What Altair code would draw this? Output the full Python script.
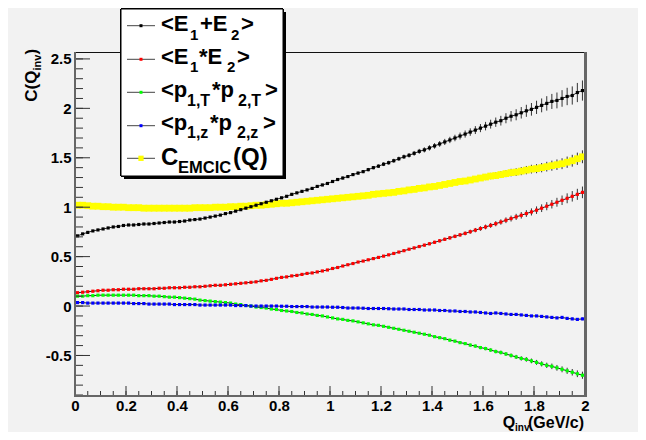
import altair as alt
import pandas as pd
import numpy as np

# ---------------- data (100 bins of 0.02 GeV/c) ----------------
q_inv = [round(0.01 + 0.02 * i, 2) for i in range(100)]

e_sum = [0.71, 0.73, 0.745, 0.76, 0.77, 0.78, 0.79, 0.80, 0.805, 0.815,
         0.82, 0.82, 0.825, 0.83, 0.83, 0.835, 0.84, 0.845, 0.85, 0.85,
         0.855, 0.86, 0.87, 0.875, 0.88, 0.89, 0.90, 0.91, 0.92, 0.935,
         0.945, 0.96, 0.975, 0.99, 1.005, 1.02, 1.035, 1.05, 1.065, 1.08,
         1.095, 1.11, 1.13, 1.145, 1.16, 1.175, 1.19, 1.21, 1.225, 1.24,
         1.26, 1.28, 1.295, 1.31, 1.33, 1.345, 1.36, 1.38, 1.40, 1.415,
         1.435, 1.45, 1.47, 1.49, 1.51, 1.525, 1.545, 1.565, 1.58, 1.60,
         1.62, 1.64, 1.66, 1.68, 1.70, 1.72, 1.74, 1.76, 1.78, 1.80,
         1.82, 1.84, 1.86, 1.875, 1.90, 1.92, 1.935, 1.955, 1.975, 1.99,
         2.01, 2.03, 2.05, 2.07, 2.08, 2.10, 2.12, 2.13, 2.16, 2.18]
e_sum_err = [0.004, 0.004, 0.004, 0.004, 0.004, 0.004, 0.004, 0.004, 0.004, 0.004,
             0.004, 0.004, 0.004, 0.004, 0.004, 0.005, 0.005, 0.005, 0.005, 0.005,
             0.005, 0.005, 0.005, 0.005, 0.005, 0.006, 0.006, 0.006, 0.006, 0.006,
             0.006, 0.007, 0.007, 0.007, 0.007, 0.007, 0.008, 0.008, 0.008, 0.008,
             0.009, 0.009, 0.009, 0.010, 0.010, 0.010, 0.011, 0.011, 0.012, 0.012,
             0.013, 0.013, 0.014, 0.014, 0.015, 0.015, 0.016, 0.017, 0.017, 0.018,
             0.019, 0.020, 0.020, 0.021, 0.022, 0.023, 0.024, 0.025, 0.026, 0.027,
             0.028, 0.029, 0.031, 0.032, 0.033, 0.035, 0.036, 0.038, 0.040, 0.041,
             0.043, 0.045, 0.047, 0.049, 0.051, 0.053, 0.056, 0.058, 0.061, 0.064,
             0.067, 0.070, 0.073, 0.076, 0.080, 0.084, 0.088, 0.092, 0.097, 0.102]

e_prod = [0.135, 0.14, 0.145, 0.15, 0.155, 0.16, 0.16, 0.165, 0.165, 0.17,
          0.17, 0.17, 0.175, 0.175, 0.175, 0.175, 0.18, 0.18, 0.185, 0.185,
          0.185, 0.19, 0.19, 0.195, 0.195, 0.20, 0.205, 0.21, 0.21, 0.215,
          0.22, 0.225, 0.23, 0.235, 0.24, 0.245, 0.255, 0.26, 0.27, 0.28,
          0.29, 0.295, 0.305, 0.31, 0.32, 0.33, 0.335, 0.345, 0.355, 0.365,
          0.38, 0.39, 0.405, 0.418, 0.43, 0.445, 0.455, 0.468, 0.48, 0.492,
          0.505, 0.518, 0.532, 0.546, 0.56, 0.575, 0.588, 0.602, 0.616, 0.63,
          0.645, 0.66, 0.675, 0.69, 0.705, 0.72, 0.735, 0.752, 0.768, 0.784,
          0.80, 0.816, 0.833, 0.85, 0.868, 0.885, 0.902, 0.918, 0.936, 0.952,
          0.97, 0.99, 1.01, 1.03, 1.05, 1.07, 1.09, 1.11, 1.13, 1.15]
e_prod_err = [0.002, 0.002, 0.002, 0.002, 0.002, 0.002, 0.002, 0.002, 0.002, 0.002,
              0.002, 0.002, 0.002, 0.002, 0.002, 0.002, 0.002, 0.002, 0.002, 0.002,
              0.003, 0.003, 0.003, 0.003, 0.003, 0.003, 0.003, 0.003, 0.003, 0.003,
              0.003, 0.003, 0.003, 0.003, 0.003, 0.004, 0.004, 0.004, 0.004, 0.004,
              0.004, 0.004, 0.004, 0.005, 0.005, 0.005, 0.005, 0.005, 0.006, 0.006,
              0.006, 0.006, 0.007, 0.007, 0.007, 0.008, 0.008, 0.008, 0.009, 0.009,
              0.010, 0.010, 0.011, 0.011, 0.012, 0.012, 0.013, 0.013, 0.014, 0.015,
              0.015, 0.016, 0.017, 0.018, 0.018, 0.019, 0.020, 0.021, 0.022, 0.023,
              0.024, 0.025, 0.026, 0.027, 0.029, 0.030, 0.031, 0.033, 0.034, 0.036,
              0.038, 0.039, 0.041, 0.043, 0.045, 0.048, 0.050, 0.053, 0.056, 0.059]

pt_prod = [0.10, 0.10, 0.105, 0.105, 0.11, 0.11, 0.11, 0.11, 0.11, 0.11,
           0.11, 0.11, 0.105, 0.105, 0.105, 0.10, 0.10, 0.095, 0.09, 0.09,
           0.085, 0.08, 0.075, 0.07, 0.06, 0.055, 0.05, 0.045, 0.04, 0.035,
           0.03, 0.02, 0.015, 0.005, 0.0, -0.01, -0.015, -0.02, -0.03, -0.035,
           -0.045, -0.05, -0.055, -0.065, -0.07, -0.08, -0.085, -0.095, -0.10, -0.11,
           -0.12, -0.13, -0.135, -0.145, -0.15, -0.16, -0.17, -0.18, -0.19, -0.195,
           -0.205, -0.215, -0.225, -0.235, -0.245, -0.255, -0.265, -0.275, -0.285, -0.295,
           -0.31, -0.32, -0.33, -0.345, -0.355, -0.37, -0.38, -0.395, -0.405, -0.42,
           -0.43, -0.445, -0.46, -0.47, -0.485, -0.50, -0.515, -0.53, -0.54, -0.555,
           -0.57, -0.585, -0.60, -0.61, -0.625, -0.64, -0.655, -0.67, -0.685, -0.70]
pt_prod_err = [0.002, 0.002, 0.002, 0.002, 0.002, 0.002, 0.002, 0.002, 0.002, 0.002,
               0.002, 0.002, 0.002, 0.002, 0.002, 0.002, 0.002, 0.002, 0.002, 0.002,
               0.002, 0.002, 0.002, 0.002, 0.002, 0.002, 0.002, 0.002, 0.002, 0.002,
               0.003, 0.003, 0.003, 0.003, 0.003, 0.003, 0.003, 0.003, 0.003, 0.003,
               0.003, 0.003, 0.004, 0.004, 0.004, 0.004, 0.004, 0.004, 0.004, 0.005,
               0.005, 0.005, 0.005, 0.005, 0.006, 0.006, 0.006, 0.006, 0.007, 0.007,
               0.007, 0.008, 0.008, 0.008, 0.009, 0.009, 0.009, 0.010, 0.010, 0.011,
               0.011, 0.012, 0.012, 0.013, 0.013, 0.014, 0.014, 0.015, 0.015, 0.016,
               0.017, 0.017, 0.018, 0.019, 0.019, 0.020, 0.021, 0.022, 0.023, 0.024,
               0.025, 0.026, 0.027, 0.028, 0.029, 0.030, 0.031, 0.033, 0.034, 0.036]

pz_prod = [0.035, 0.035, 0.03, 0.03, 0.03, 0.03, 0.03, 0.03, 0.03, 0.03,
           0.03, 0.025, 0.025, 0.025, 0.02, 0.02, 0.02, 0.02, 0.02, 0.015,
           0.015, 0.015, 0.015, 0.015, 0.01, 0.01, 0.01, 0.01, 0.01, 0.01,
           0.01, 0.005, 0.005, 0.005, 0.0, 0.0, 0.0, 0.0, 0.0, 0.0,
           -0.002, -0.002, -0.005, -0.005, -0.005, -0.005, -0.01, -0.01, -0.01, -0.01,
           -0.012, -0.012, -0.015, -0.02, -0.02, -0.02, -0.022, -0.025, -0.025, -0.025,
           -0.025, -0.027, -0.03, -0.03, -0.03, -0.035, -0.035, -0.035, -0.04, -0.04,
           -0.04, -0.045, -0.045, -0.05, -0.05, -0.055, -0.055, -0.06, -0.06, -0.065,
           -0.07, -0.075, -0.07, -0.075, -0.08, -0.085, -0.085, -0.09, -0.095, -0.10,
           -0.10, -0.105, -0.11, -0.115, -0.12, -0.115, -0.125, -0.13, -0.135, -0.13]
pz_prod_err = [0.002, 0.002, 0.002, 0.002, 0.002, 0.002, 0.002, 0.002, 0.002, 0.002,
               0.002, 0.002, 0.002, 0.002, 0.002, 0.002, 0.002, 0.002, 0.002, 0.002,
               0.002, 0.002, 0.002, 0.002, 0.002, 0.002, 0.002, 0.002, 0.002, 0.002,
               0.002, 0.002, 0.002, 0.002, 0.002, 0.002, 0.002, 0.002, 0.002, 0.002,
               0.003, 0.003, 0.003, 0.003, 0.003, 0.003, 0.003, 0.003, 0.003, 0.003,
               0.003, 0.003, 0.003, 0.003, 0.003, 0.003, 0.003, 0.003, 0.003, 0.003,
               0.004, 0.004, 0.004, 0.004, 0.004, 0.004, 0.004, 0.004, 0.004, 0.004,
               0.005, 0.005, 0.005, 0.005, 0.005, 0.005, 0.005, 0.005, 0.006, 0.006,
               0.006, 0.006, 0.007, 0.007, 0.007, 0.007, 0.008, 0.008, 0.008, 0.009,
               0.009, 0.009, 0.010, 0.010, 0.010, 0.011, 0.011, 0.012, 0.012, 0.013]

emcic = [1.02, 1.02, 1.015, 1.01, 1.01, 1.005, 1.005, 1.0, 1.0, 1.0,
         0.995, 0.995, 0.995, 0.99, 0.99, 0.99, 0.99, 0.99, 0.99, 0.99,
         0.99, 0.99, 0.99, 0.995, 0.995, 0.995, 0.995, 1.0, 1.0, 1.0,
         1.005, 1.005, 1.01, 1.01, 1.015, 1.02, 1.02, 1.025, 1.03, 1.035,
         1.04, 1.04, 1.045, 1.05, 1.055, 1.06, 1.065, 1.07, 1.075, 1.08,
         1.085, 1.09, 1.095, 1.10, 1.105, 1.11, 1.115, 1.12, 1.13, 1.135,
         1.14, 1.145, 1.15, 1.16, 1.165, 1.175, 1.18, 1.19, 1.195, 1.205,
         1.21, 1.22, 1.23, 1.24, 1.25, 1.26, 1.265, 1.275, 1.285, 1.295,
         1.305, 1.315, 1.32, 1.33, 1.34, 1.35, 1.355, 1.365, 1.375, 1.385,
         1.39, 1.40, 1.41, 1.42, 1.43, 1.44, 1.455, 1.47, 1.49, 1.51]
emcic_err = [0.003, 0.003, 0.003, 0.003, 0.003, 0.003, 0.003, 0.003, 0.003, 0.003,
             0.003, 0.003, 0.003, 0.003, 0.003, 0.003, 0.003, 0.003, 0.003, 0.003,
             0.004, 0.004, 0.004, 0.004, 0.004, 0.004, 0.004, 0.004, 0.004, 0.004,
             0.005, 0.005, 0.005, 0.005, 0.005, 0.005, 0.005, 0.006, 0.006, 0.006,
             0.006, 0.006, 0.007, 0.007, 0.007, 0.007, 0.008, 0.008, 0.008, 0.009,
             0.009, 0.009, 0.010, 0.010, 0.011, 0.011, 0.012, 0.012, 0.013, 0.013,
             0.014, 0.014, 0.015, 0.016, 0.016, 0.017, 0.018, 0.018, 0.019, 0.020,
             0.021, 0.022, 0.023, 0.024, 0.025, 0.026, 0.027, 0.028, 0.029, 0.030,
             0.031, 0.032, 0.034, 0.035, 0.036, 0.038, 0.039, 0.041, 0.042, 0.044,
             0.046, 0.047, 0.049, 0.051, 0.053, 0.055, 0.057, 0.060, 0.062, 0.065]

series_names = ["E1+E2", "E1*E2", "pT", "pz", "EMCIC"]
series_colors = ["#000000", "#ff0000", "#00ff00", "#0000ff", "#ffff00"]
series_vals = [e_sum, e_prod, pt_prod, pz_prod, emcic]
series_errs = [e_sum_err, e_prod_err, pt_prod_err, pz_prod_err, emcic_err]

x_ticks = [0, 0.2, 0.4, 0.6, 0.8, 1.0, 1.2, 1.4, 1.6, 1.8, 2.0]
y_ticks = [-0.5, 0, 0.5, 1.0, 1.5, 2.0, 2.5]

# ---------------- tables ----------------
rows = []
for name, vals, errs in zip(series_names, series_vals, series_errs):
    for q, v, e in zip(q_inv, vals, errs):
        rows.append({"series": name, "x": q, "v": v, "lo": v - e, "hi": v + e})
df = pd.DataFrame(rows)
df_main = df[df.series != "EMCIC"]
df_y = df[df.series == "EMCIC"]

W, H = 510, 344
FONT = "Liberation Sans"
xs = alt.Scale(domain=[0, 2], nice=False, zero=False)
ys = alt.Scale(domain=[-0.91, 2.57], nice=False, zero=False)
fmt = "datum.value < 0 ? '-' + format(-datum.value, '~g') : format(datum.value, '~g')"

x_axis = alt.Axis(values=x_ticks, ticks=False, domain=False, grid=False, title=None,
                  labelFont=FONT, labelFontWeight="bold", labelFontSize=15,
                  labelColor="#000", labelPadding=2, labelFlush=False,
                  labelOverlap=False, labelExpr=fmt)
y_axis = alt.Axis(values=y_ticks, ticks=False, domain=False, grid=False, title=None,
                  labelFont=FONT, labelFontWeight="bold", labelFontSize=15,
                  labelColor="#000", labelPadding=4, labelOverlap=False, labelExpr=fmt)

X = lambda f="x": alt.X(f"{f}:Q", scale=xs, axis=None)
Y = lambda f="v": alt.Y(f"{f}:Q", scale=ys, axis=None)

# yellow error bars under the yellow band (big markers)
yellow_err = alt.Chart(df_y).mark_rule(color="#333333", strokeWidth=1).encode(
    x=alt.X("x:Q", scale=xs, axis=x_axis), y=alt.Y("lo:Q", scale=ys, axis=y_axis), y2="hi:Q")
yellow = alt.Chart(df_y).mark_square(size=46, color="#ffff00", opacity=1).encode(
    x=X(), y=Y())
lines = alt.Chart(df_main).mark_line(color="#222222", strokeWidth=1).encode(
    x=X(), y=Y(), detail="series:N")
errs = alt.Chart(df_main).mark_rule(color="#333333", strokeWidth=1).encode(
    x=X(), y=Y("lo"), y2="hi:Q")
pts = alt.Chart(df_main).mark_square(size=10, opacity=1).encode(
    x=X(), y=Y(),
    color=alt.Color("series:N", scale=alt.Scale(domain=series_names, range=series_colors),
                    legend=None))

# inward ticks
xmaj = pd.DataFrame({"x": x_ticks})
xmin = pd.DataFrame({"x": [round(v, 2) for v in np.arange(0, 2.0001, 0.05)]})
ymaj = pd.DataFrame({"v": y_ticks})
ymin = pd.DataFrame({"v": [round(v, 1) for v in np.arange(-0.9, 2.5001, 0.1)]})
tick_c = "#333333"
xt1 = alt.Chart(xmaj).mark_rule(color=tick_c).encode(x=X(), y=alt.value(H), y2=alt.value(H - 10))
xt2 = alt.Chart(xmin).mark_rule(color=tick_c).encode(x=X(), y=alt.value(H), y2=alt.value(H - 5))
yt1 = alt.Chart(ymaj).mark_rule(color=tick_c).encode(y=Y(), x=alt.value(0), x2=alt.value(15))
yt2 = alt.Chart(ymin).mark_rule(color=tick_c).encode(y=Y(), x=alt.value(0), x2=alt.value(8))

# frame
f_top = alt.Chart(xmaj).mark_rule(color="#111111", strokeWidth=1).encode(
    x=alt.value(0), x2=alt.value(W + 1), y=alt.value(0.5))
f_right = alt.Chart(xmaj).mark_rule(color="#666666", strokeWidth=2).encode(
    x=alt.value(W + 0.5), y=alt.value(0), y2=alt.value(H + 1))
f_left = alt.Chart(xmaj).mark_rule(color="#666666", strokeWidth=2).encode(
    x=alt.value(0), y=alt.value(0), y2=alt.value(H + 1))
f_bot = alt.Chart(xmaj).mark_rule(color="#666666", strokeWidth=2).encode(
    x=alt.value(0), x2=alt.value(W + 1), y=alt.value(H))

# legend box (pixel coordinates relative to the plot origin)
shadow = alt.Chart(xmaj).mark_rect(color="#000000").encode(
    x=alt.value(49), x2=alt.value(211), y=alt.value(-40), y2=alt.value(127))
box = alt.Chart(xmaj).mark_rect(fill="#ffffff", stroke="#000000", strokeWidth=1).encode(
    x=alt.value(46), x2=alt.value(208), y=alt.value(-43), y2=alt.value(124))
leg_rows = pd.DataFrame({
    "py": [-26.3, 7.3, 40.3, 73.7, 106.3],
    "col": series_colors,
    "ms": [9, 9, 9, 9, 28],
})
leg_lines = alt.Chart(leg_rows).mark_rule(color="#444444", strokeWidth=1).encode(
    x=alt.value(52), x2=alt.value(80), y=alt.Y("py:Q", scale=None))
leg_marks = alt.Chart(leg_rows).mark_square(opacity=1).encode(
    x=alt.value(66), y=alt.Y("py:Q", scale=None),
    color=alt.Color("col:N", scale=None), size=alt.Size("ms:Q", scale=None))

frags = [
    ("<E", 86, -21.3, 22), ("1", 115, -12.5, 15), ("+E", 125, -21.3, 22), ("2", 156, -12.5, 15), (">", 166, -21.3, 22),
    ("<E", 86, 12, 22), ("1", 115, 20, 15), ("*E", 124, 12, 22), ("2", 152, 20, 15), (">", 162, 12, 22),
    ("<p", 86, 45, 22), ("1,T", 112, 54, 16), ("*p", 137, 45, 22), ("2,T", 163, 54, 16), (">", 190, 45, 22),
    ("<p", 86, 78, 22), ("1,z", 112, 86, 16), ("*p", 135, 78, 22), ("2,z", 162, 86, 16), (">", 188, 78, 22),
    ("C", 86, 113, 24), ("EMCIC", 103, 121, 16.5), ("(Q)", 158, 113, 24),
    # x-axis title
    ("Q", 427.7, 375.5, 16), ("inv", 440, 379, 10), ("(GeV/c)", 453, 375.5, 16),
]
fr = pd.DataFrame(frags, columns=["t", "px", "py", "fs"])
texts = alt.Chart(fr).mark_text(align="left", baseline="alphabetic", font=FONT,
                                fontWeight="bold", color="#000000").encode(
    x=alt.X("px:Q", scale=None), y=alt.Y("py:Q", scale=None),
    text="t:N", size=alt.Size("fs:Q", scale=None))

ytitle = pd.DataFrame([("C(Q", -38, 49.7, 17), ("inv", -34, 18.5, 11), (")", -38, 2.6, 17)],
                      columns=["t", "px", "py", "fs"])
ytexts = alt.Chart(ytitle).mark_text(align="left", baseline="alphabetic", font=FONT,
                                     fontWeight="bold", color="#000000", angle=270).encode(
    x=alt.X("px:Q", scale=None), y=alt.Y("py:Q", scale=None),
    text="t:N", size=alt.Size("fs:Q", scale=None))

chart = alt.layer(
    yellow_err, yellow, lines, errs, pts,
    xt1, xt2, yt1, yt2, f_top, f_right, f_left, f_bot,
    shadow, box, leg_lines, leg_marks, texts, ytexts,
).resolve_scale(
    x="independent", y="independent", color="independent", size="independent"
).properties(
    width=W, height=H,
    autosize=alt.AutoSizeParams(type="none"),
    padding={"left": 67, "top": 44, "right": 53, "bottom": 36},
    background="#f2f2f2",
).configure_view(stroke=None)

chart.save("out.html", embed_options={"renderer": "svg", "actions": False})
